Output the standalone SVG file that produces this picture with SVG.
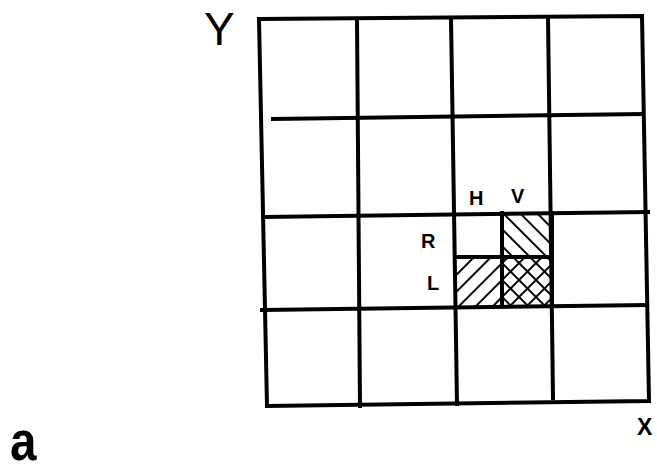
<svg xmlns="http://www.w3.org/2000/svg" width="657" height="473" viewBox="0 0 657 473">
<defs>
<style>
.g{stroke:#000;stroke-width:4;fill:none;stroke-linecap:square}
.t{font-family:"Liberation Sans",Arial,sans-serif;fill:#000}
.b{font-weight:bold}
</style>
<pattern id="hb" patternUnits="userSpaceOnUse" width="12" height="12" patternTransform="rotate(45)">
<line x1="0" y1="0" x2="0" y2="12" stroke="#000" stroke-width="4"/>
</pattern>
<pattern id="hf" patternUnits="userSpaceOnUse" width="12" height="12" patternTransform="rotate(-45)">
<line x1="0" y1="0" x2="0" y2="12" stroke="#000" stroke-width="4"/>
</pattern>
</defs>
<rect width="657" height="473" fill="#fff"/>
<g id="hatching">
<rect x="502" y="214" width="50" height="43" fill="url(#hf)"/>
<rect x="455" y="257" width="47" height="49" fill="url(#hb)"/>
<rect x="502" y="257" width="50" height="49" fill="url(#hb)"/>
<rect x="502" y="257" width="50" height="49" fill="url(#hf)"/>
</g>
<g id="grid" class="g">
<path d="M259,19 L642,16 L649,401 L267,406 Z"/>
<path d="M357,20 L360,406"/>
<path d="M451,18 L457,404"/>
<path d="M548,17 L553,398"/>
<path d="M273,119 L642,114"/>
<path d="M263,217 L648,212"/>
<path d="M262,310 L647,305"/>
<path d="M502,213 L502,306"/>
<path d="M455,257 L552,257"/>
<path d="M552,213 L552,306"/>
</g>
<g id="labels">
<text class="t" x="204" y="45" font-size="46">Y</text>
<text class="t b" x="637" y="435" font-size="23">X</text>
<text class="t b" x="10" y="460" font-size="56" transform="translate(10,0) scale(0.85,1) translate(-10,0)">a</text>
<text class="t b" x="469" y="205" font-size="20">H</text>
<text class="t b" x="511" y="203" font-size="20">V</text>
<text class="t b" x="421" y="248" font-size="20">R</text>
<text class="t b" x="427" y="290" font-size="20">L</text>
</g>
</svg>
